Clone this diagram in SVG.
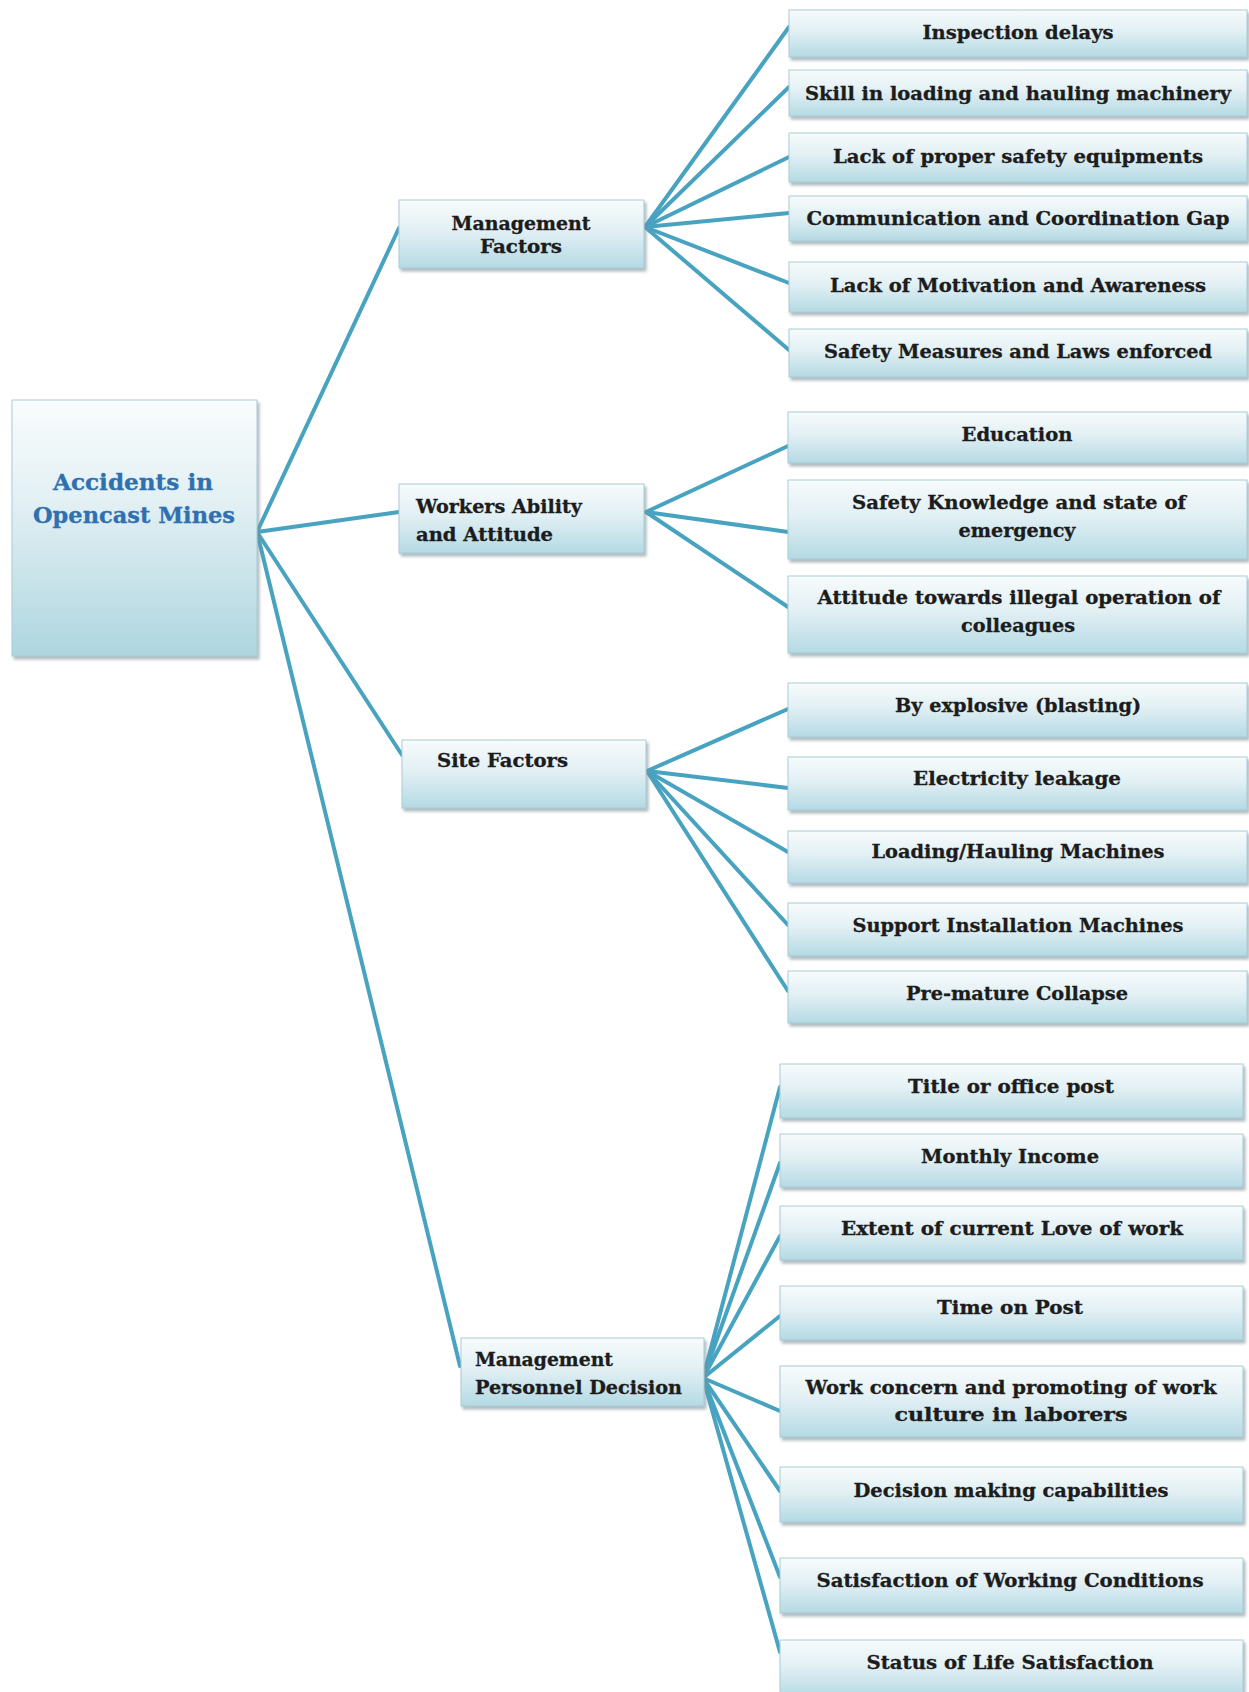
<svg xmlns="http://www.w3.org/2000/svg" width="1249" height="1692" viewBox="0 0 1249 1692">
<defs>
<linearGradient id="g" x1="0" y1="0" x2="0" y2="1">
<stop offset="0" stop-color="#f7fbfc"/>
<stop offset="0.45" stop-color="#e2f0f4"/>
<stop offset="1" stop-color="#b4dae4"/>
</linearGradient>
<linearGradient id="gr" x1="0" y1="0" x2="0" y2="1">
<stop offset="0" stop-color="#f9fcfd"/>
<stop offset="0.4" stop-color="#e2f0f4"/>
<stop offset="1" stop-color="#aed6df"/>
</linearGradient>
<filter id="sh" x="-5%" y="-10%" width="115%" height="130%">
<feDropShadow dx="2" dy="3" stdDeviation="1.5" flood-color="#7a8c95" flood-opacity="0.6"/>
</filter>
<style>
.box { fill: url(#g); stroke: #a9cbd6; stroke-width: 1; filter: url(#sh); }
.root { fill: url(#gr); stroke: #a9cbd6; stroke-width: 1; filter: url(#sh); }
.t { font-family: "DejaVu Serif", "Liberation Serif", serif; font-weight: bold; font-size: 18px; fill: #1c1c1c; stroke: #1c1c1c; stroke-width: 0.3; }
.m { text-anchor: middle; }
.rt { font-family: "DejaVu Serif", "Liberation Serif", serif; font-weight: bold; font-size: 22px; fill: #2f70b0; stroke: #2f70b0; stroke-width: 0.3; text-anchor: middle; }
.conn line { stroke: #48a3c0; stroke-width: 4; stroke-linecap: round; }
</style>
</defs>
<rect width="1249" height="1692" fill="#ffffff"/>

<g id="connectors" class="conn">
<line x1="257" y1="532" x2="399" y2="228"/>
<line x1="257" y1="532" x2="399" y2="512"/>
<line x1="257" y1="532" x2="402" y2="755"/>
<line x1="257" y1="532" x2="460" y2="1366"/>
<line x1="645" y1="227" x2="789" y2="27"/>
<line x1="645" y1="227" x2="789" y2="87"/>
<line x1="645" y1="227" x2="789" y2="157"/>
<line x1="645" y1="227" x2="789" y2="213"/>
<line x1="645" y1="227" x2="789" y2="283"/>
<line x1="645" y1="227" x2="789" y2="350"/>
<line x1="646" y1="512" x2="788" y2="446"/>
<line x1="646" y1="512" x2="788" y2="532"/>
<line x1="646" y1="512" x2="788" y2="607"/>
<line x1="647" y1="771" x2="788" y2="709"/>
<line x1="647" y1="771" x2="788" y2="788"/>
<line x1="647" y1="771" x2="788" y2="852"/>
<line x1="647" y1="771" x2="788" y2="925"/>
<line x1="647" y1="771" x2="788" y2="991"/>
<line x1="703" y1="1378" x2="780" y2="1087"/>
<line x1="703" y1="1378" x2="780" y2="1163"/>
<line x1="703" y1="1378" x2="780" y2="1236"/>
<line x1="703" y1="1378" x2="780" y2="1316"/>
<line x1="703" y1="1378" x2="780" y2="1411"/>
<line x1="703" y1="1378" x2="780" y2="1491"/>
<line x1="703" y1="1378" x2="780" y2="1577"/>
<line x1="703" y1="1378" x2="780" y2="1652"/>
</g>

<g id="root">
<rect class="root" x="12" y="400" width="245" height="256"/>
<text class="rt" x="133" y="490" textLength="160" lengthAdjust="spacingAndGlyphs">Accidents in</text>
<text class="rt" x="134" y="523" textLength="202" lengthAdjust="spacingAndGlyphs">Opencast Mines</text>
</g>

<g id="management-factors">
<rect class="box" x="399" y="200" width="245" height="68"/>
<text class="t m" x="521" y="230" textLength="139" lengthAdjust="spacingAndGlyphs">Management</text>
<text class="t m" x="521" y="253" textLength="82" lengthAdjust="spacingAndGlyphs">Factors</text>
</g>

<g id="workers-ability">
<rect class="box" x="399" y="484" width="245" height="69"/>
<text class="t" x="416" y="513" textLength="166" lengthAdjust="spacingAndGlyphs">Workers Ability</text>
<text class="t" x="416" y="541" textLength="137" lengthAdjust="spacingAndGlyphs">and Attitude</text>
</g>

<g id="site-factors">
<rect class="box" x="402" y="740" width="244" height="68"/>
<text class="t" x="437" y="767" textLength="131" lengthAdjust="spacingAndGlyphs">Site Factors</text>
</g>

<g id="management-personnel">
<rect class="box" x="461" y="1338" width="243" height="68"/>
<text class="t" x="475" y="1366" textLength="138" lengthAdjust="spacingAndGlyphs">Management</text>
<text class="t" x="475" y="1394" textLength="207" lengthAdjust="spacingAndGlyphs">Personnel Decision</text>
</g>

<g id="inspection-delays">
<rect class="box" x="789" y="10" width="458" height="47"/>
<text class="t m" x="1018" y="39" textLength="191" lengthAdjust="spacingAndGlyphs">Inspection delays</text>
</g>
<g id="skill-loading">
<rect class="box" x="789" y="70" width="458" height="46"/>
<text class="t m" x="1018" y="100" textLength="426" lengthAdjust="spacingAndGlyphs">Skill in loading and hauling machinery</text>
</g>
<g id="lack-safety-equipments">
<rect class="box" x="789" y="133" width="458" height="49"/>
<text class="t m" x="1018" y="163" textLength="370" lengthAdjust="spacingAndGlyphs">Lack of proper safety equipments</text>
</g>
<g id="communication-gap">
<rect class="box" x="789" y="196" width="458" height="45"/>
<text class="t m" x="1018" y="225" textLength="423" lengthAdjust="spacingAndGlyphs">Communication and Coordination Gap</text>
</g>
<g id="lack-motivation">
<rect class="box" x="789" y="262" width="458" height="50"/>
<text class="t m" x="1018" y="292" textLength="376" lengthAdjust="spacingAndGlyphs">Lack of Motivation and Awareness</text>
</g>
<g id="safety-measures">
<rect class="box" x="789" y="329" width="458" height="48"/>
<text class="t m" x="1018" y="358" textLength="388" lengthAdjust="spacingAndGlyphs">Safety Measures and Laws enforced</text>
</g>

<g id="education">
<rect class="box" x="788" y="412" width="459" height="51"/>
<text class="t m" x="1017" y="441" textLength="111" lengthAdjust="spacingAndGlyphs">Education</text>
</g>
<g id="safety-knowledge">
<rect class="box" x="788" y="480" width="459" height="79"/>
<text class="t m" x="1019" y="509" textLength="334" lengthAdjust="spacingAndGlyphs">Safety Knowledge and state of</text>
<text class="t m" x="1017" y="537" textLength="117" lengthAdjust="spacingAndGlyphs">emergency</text>
</g>
<g id="attitude-illegal">
<rect class="box" x="788" y="576" width="459" height="77"/>
<text class="t m" x="1019" y="604" textLength="403" lengthAdjust="spacingAndGlyphs">Attitude towards illegal operation of</text>
<text class="t m" x="1018" y="632" textLength="114" lengthAdjust="spacingAndGlyphs">colleagues</text>
</g>

<g id="by-explosive">
<rect class="box" x="788" y="683" width="459" height="54"/>
<text class="t m" x="1018" y="712" textLength="246" lengthAdjust="spacingAndGlyphs">By explosive (blasting)</text>
</g>
<g id="electricity-leakage">
<rect class="box" x="788" y="757" width="459" height="53"/>
<text class="t m" x="1017" y="785" textLength="208" lengthAdjust="spacingAndGlyphs">Electricity leakage</text>
</g>
<g id="loading-hauling">
<rect class="box" x="788" y="831" width="459" height="52"/>
<text class="t m" x="1018" y="858" textLength="293" lengthAdjust="spacingAndGlyphs">Loading/Hauling Machines</text>
</g>
<g id="support-installation">
<rect class="box" x="788" y="903" width="459" height="53"/>
<text class="t m" x="1018" y="932" textLength="331" lengthAdjust="spacingAndGlyphs">Support Installation Machines</text>
</g>
<g id="pre-mature-collapse">
<rect class="box" x="788" y="971" width="459" height="52"/>
<text class="t m" x="1017" y="1000" textLength="222" lengthAdjust="spacingAndGlyphs">Pre-mature Collapse</text>
</g>

<g id="title-office-post">
<rect class="box" x="780" y="1064" width="463" height="54"/>
<text class="t m" x="1011" y="1093" textLength="206" lengthAdjust="spacingAndGlyphs">Title or office post</text>
</g>
<g id="monthly-income">
<rect class="box" x="780" y="1134" width="463" height="53"/>
<text class="t m" x="1010" y="1163" textLength="178" lengthAdjust="spacingAndGlyphs">Monthly Income</text>
</g>
<g id="extent-love-work">
<rect class="box" x="780" y="1206" width="463" height="54"/>
<text class="t m" x="1012" y="1235" textLength="342" lengthAdjust="spacingAndGlyphs">Extent of current Love of work</text>
</g>
<g id="time-on-post">
<rect class="box" x="780" y="1286" width="463" height="54"/>
<text class="t m" x="1010" y="1314" textLength="146" lengthAdjust="spacingAndGlyphs">Time on Post</text>
</g>
<g id="work-concern">
<rect class="box" x="780" y="1366" width="463" height="71"/>
<text class="t m" x="1011" y="1394" textLength="411" lengthAdjust="spacingAndGlyphs">Work concern and promoting of work</text>
<text class="t m" x="1011" y="1421" textLength="233" lengthAdjust="spacingAndGlyphs">culture in laborers</text>
</g>
<g id="decision-making">
<rect class="box" x="780" y="1467" width="463" height="55"/>
<text class="t m" x="1011" y="1497" textLength="315" lengthAdjust="spacingAndGlyphs">Decision making capabilities</text>
</g>
<g id="satisfaction-working">
<rect class="box" x="780" y="1558" width="463" height="55"/>
<text class="t m" x="1010" y="1587" textLength="387" lengthAdjust="spacingAndGlyphs">Satisfaction of Working Conditions</text>
</g>
<g id="status-life">
<rect class="box" x="780" y="1640" width="463" height="58"/>
<text class="t m" x="1010" y="1669" textLength="287" lengthAdjust="spacingAndGlyphs">Status of Life Satisfaction</text>
</g>
</svg>
